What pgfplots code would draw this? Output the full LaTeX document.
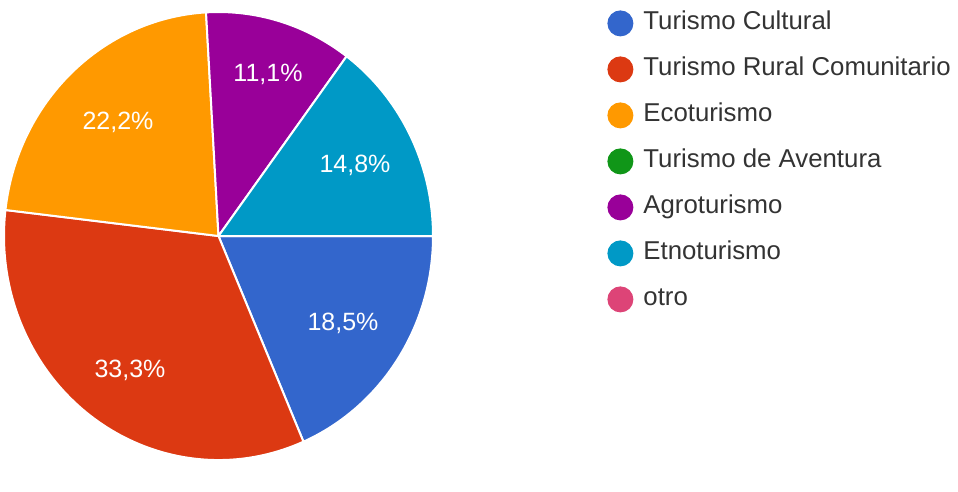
\documentclass[border=0pt]{standalone}
\usepackage{pgfplots}
\pgfplotsset{compat=1.18}
\usepackage{fontspec}
\setmainfont{Liberation Sans}

\definecolor{gcBlue}{HTML}{3366CC}
\definecolor{gcRed}{HTML}{DC3912}
\definecolor{gcOrange}{HTML}{FF9900}
\definecolor{gcGreen}{HTML}{109618}
\definecolor{gcPurple}{HTML}{990099}
\definecolor{gcTeal}{HTML}{0099C6}
\definecolor{gcPink}{HTML}{DD4477}
\definecolor{txtgray}{HTML}{333333}

\pgfplotsset{dotleg/.style={legend image code/.code={\path[##1, draw=none] (0pt,0pt) circle (6.5pt);}}}

% answers (counts out of 27)
\def\vCult{5}  % Turismo Cultural
\def\vRural{9} % Turismo Rural Comunitario
\def\vEco{6}   % Ecoturismo
\def\vAven{0}  % Turismo de Aventura
\def\vAgro{3}  % Agroturismo
\def\vEtno{4}  % Etnoturismo
\def\vOtro{0}  % otro
\pgfmathsetmacro\tot{\vCult+\vRural+\vEco+\vAven+\vAgro+\vEtno+\vOtro}
% slices run clockwise from 3 o'clock
\pgfmathsetmacro\aA{0}
\pgfmathsetmacro\aB{\aA-360*\vCult/\tot}
\pgfmathsetmacro\aC{\aB-360*\vRural/\tot}
\pgfmathsetmacro\aD{\aC-360*\vEco/\tot}
\pgfmathsetmacro\aE{\aD-360*\vAven/\tot}
\pgfmathsetmacro\aF{\aE-360*\vAgro/\tot}
\pgfmathsetmacro\aG{\aF-360*\vEtno/\tot}

\begin{document}
\begin{tikzpicture}
\begin{axis}[
    scale only axis,
    width=479pt, height=231pt,
    xmin=0, xmax=958, ymin=0, ymax=462,
    hide axis, clip=false,
    legend cell align=left,
    legend style={at={(axis cs:607,452)}, anchor=north west, draw=none, fill=none,
        inner sep=0pt, row sep=10pt,
        font=\fontsize{12.9}{15}\selectfont, text=txtgray,
        nodes={inner sep=0pt, text height=9.2pt, text depth=2.7pt},
        /tikz/every odd column/.append style={column sep=5pt}},
]
\path (axis cs:0,0) (axis cs:958,462);
\begin{scope}[draw=white, line width=1pt, line join=round, x radius=107.25pt, y radius=112pt]
\filldraw[fill=gcBlue] (axis cs:218.5,226) -- ++(\aA:107.25pt and 112pt) arc[start angle=\aA, end angle=\aB] -- cycle;
\filldraw[fill=gcRed] (axis cs:218.5,226) -- ++(\aB:107.25pt and 112pt) arc[start angle=\aB, end angle=\aC] -- cycle;
\filldraw[fill=gcOrange] (axis cs:218.5,226) -- ++(\aC:107.25pt and 112pt) arc[start angle=\aC, end angle=\aD] -- cycle;
\filldraw[fill=gcPurple] (axis cs:218.5,226) -- ++(\aE:107.25pt and 112pt) arc[start angle=\aE, end angle=\aF] -- cycle;
\filldraw[fill=gcTeal] (axis cs:218.5,226) -- ++(\aF:107.25pt and 112pt) arc[start angle=\aF, end angle=\aG] -- cycle;
\end{scope}
\begin{scope}[every node/.style={text=white, font=\fontsize{12.5}{15}\selectfont}]
\node at (axis cs:343,139) {18,5\%};
\node at (axis cs:130,92) {33,3\%};
\node at (axis cs:118,340) {22,2\%};
\node at (axis cs:268,388) {11,1\%};
\node at (axis cs:355,297) {14,8\%};
\end{scope}

\addlegendimage{dotleg, fill=gcBlue}
\addlegendentry{Turismo Cultural}
\addlegendimage{dotleg, fill=gcRed}
\addlegendentry{Turismo Rural Comunitario}
\addlegendimage{dotleg, fill=gcOrange}
\addlegendentry{Ecoturismo}
\addlegendimage{dotleg, fill=gcGreen}
\addlegendentry{Turismo de Aventura}
\addlegendimage{dotleg, fill=gcPurple}
\addlegendentry{Agroturismo}
\addlegendimage{dotleg, fill=gcTeal}
\addlegendentry{Etnoturismo}
\addlegendimage{dotleg, fill=gcPink}
\addlegendentry{otro}
\end{axis}
\end{tikzpicture}
\end{document}
